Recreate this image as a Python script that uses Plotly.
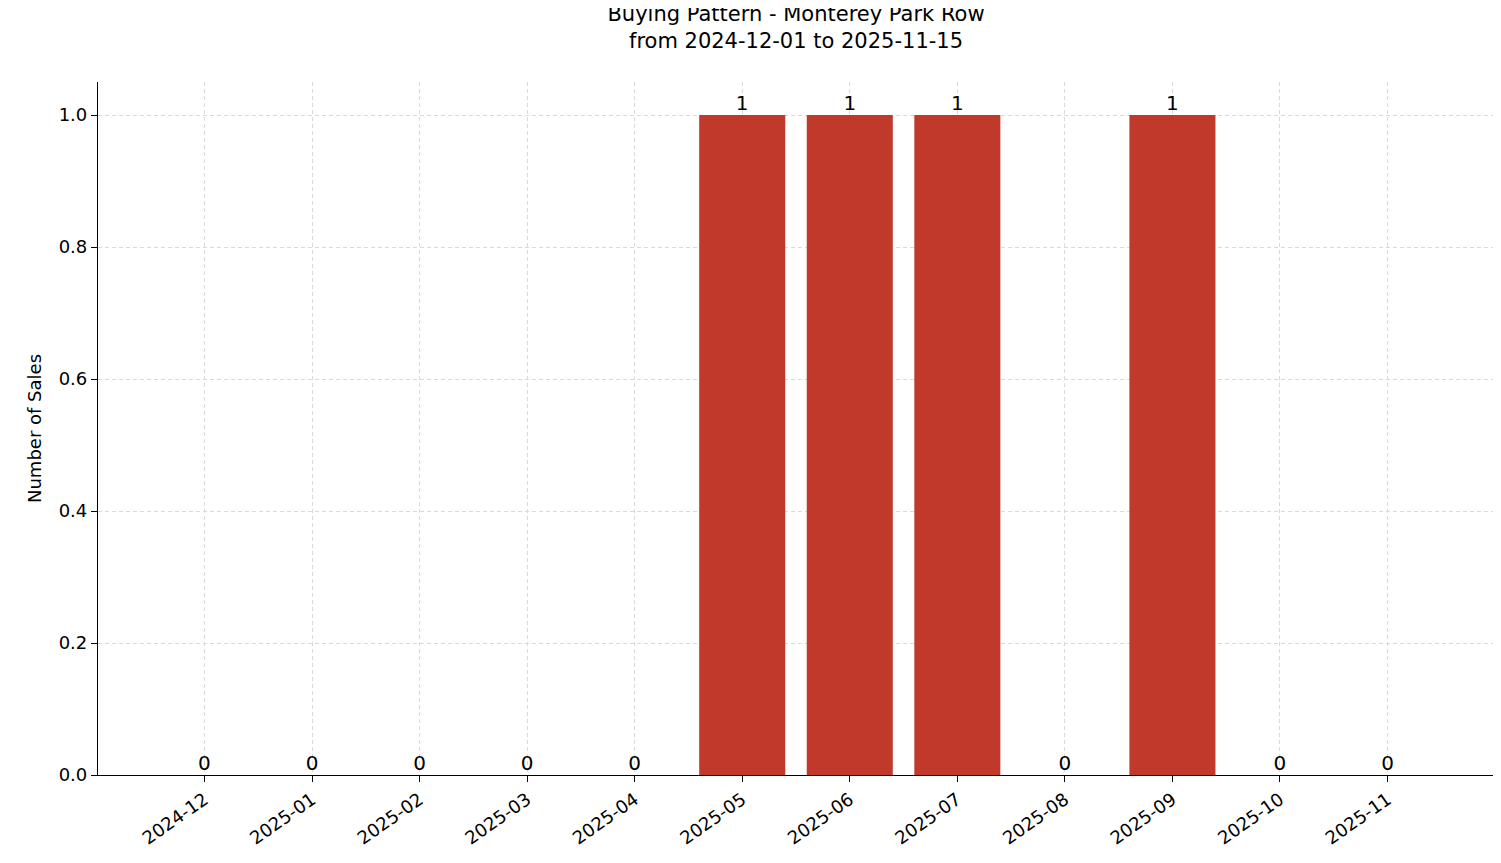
import plotly.graph_objects as go

months = ['2024-12', '2025-01', '2025-02', '2025-03', '2025-04', '2025-05',
          '2025-06', '2025-07', '2025-08', '2025-09', '2025-10', '2025-11']
sales = [0, 0, 0, 0, 0, 1, 1, 1, 0, 1, 0, 0]

bar_color = '#c0392b'
xs = list(range(len(months)))

fig = go.Figure()

fig.add_trace(go.Bar(
    x=xs, y=sales, width=0.8,
    marker=dict(color=bar_color, line=dict(width=0)),
    showlegend=False
))

# value labels above each bar
fig.add_trace(go.Scatter(
    x=xs, y=sales, mode='text',
    text=[str(v) for v in sales],
    textposition='top center',
    textfont=dict(size=20, color='black'),
    cliponaxis=False, showlegend=False
))

fig.update_layout(
    width=1501, height=863,
    paper_bgcolor='white', plot_bgcolor='white',
    font=dict(family='DejaVu Sans', size=18, color='black'),
    title=dict(text='Buying Pattern - Monterey Park Row<br>from 2024-12-01 to 2025-11-15',
               x=0.525, xanchor='center', yref='container', y=0.985, yanchor='top',
               font=dict(size=21)),
    margin=dict(l=90, r=15, t=74, b=96, autoexpand=False),
    bargap=0.2,
)

grid = dict(showgrid=True, gridcolor='#d9d9d9', griddash='4px,3px', gridwidth=0.8)

fig.update_xaxes(
    tickmode='array', tickvals=xs, ticktext=months, tickangle=-35,
    range=[-0.99, 11.99], automargin=False,
    showline=True, linecolor='black', linewidth=1.2,
    ticks='outside', ticklen=6, tickcolor='black',
    zeroline=False, tickfont=dict(size=18), **grid
)
fig.update_yaxes(
    range=[0, 1.05], tickvals=[0, 0.2, 0.4, 0.6, 0.8, 1.0],
    ticktext=['0.0', '0.2', '0.4', '0.6', '0.8', '1.0'], automargin=False,
    title=dict(text='Number of Sales', font=dict(size=18), standoff=12),
    showline=True, linecolor='black', linewidth=1.2,
    ticks='outside', ticklen=6, tickcolor='black',
    zeroline=False, tickfont=dict(size=18), **grid
)

fig.write_html('out.html')
